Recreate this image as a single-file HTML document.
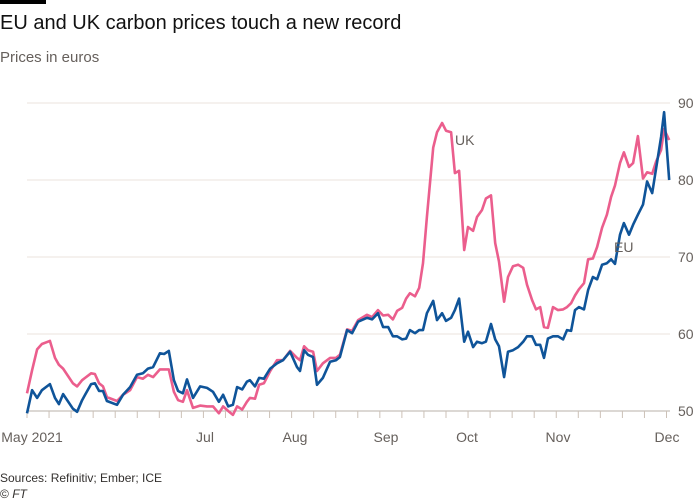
<!DOCTYPE html>
<html><head><meta charset="utf-8">
<style>
body{margin:0;background:#fff;}
svg{display:block;font-family:"Liberation Sans",sans-serif;}
</style></head>
<body>
<svg id="chart" width="700" height="500">
<rect x="0" y="0" width="46" height="4" fill="#000"/>
<text x="0" y="29" font-size="20" fill="#111">EU and UK carbon prices touch a new record</text>
<text x="0" y="62" font-size="15" fill="#66605c">Prices in euros</text>
<g id="grid"></g><g id="xaxis"></g><g id="series"></g>
<text x="455" y="145" font-size="14" fill="#66605c">UK</text>
<text x="614" y="252" font-size="14" fill="#66605c">EU</text>
<text x="0" y="482" font-size="12" fill="#33302e">Sources: Refinitiv; Ember; ICE</text>
<text x="0" y="498" font-size="12" fill="#33302e">© <tspan font-style="italic">FT</tspan></text>
</svg>
<script>
const days=[0,1.7,3.4,5.0,7.7,9.4,10.7,12.1,15.4,16.8,18.5,19.5,21.5,22.8,24.2,25.5,26.8,30.2,32.2,34.6,36.9,38.9,40.6,42.3,44.6,46.0,47.6,49.3,50.7,52.3,53.7,55.7,58.1,60.4,62.4,64.4,65.8,67.5,69.1,70.5,72.2,73.8,74.8,76.5,77.9,79.5,81.6,83.9,85.9,88.3,90.6,91.6,93.0,94.3,96.0,97.3,99.3,101.7,103.7,105.0,107.4,109.1,111.1,114.1,115.8,117.8,119.5,121.2,122.8,124.2,125.9,127.2,128.5,130.2,131.6,132.9,134.2,136.3,137.6,139.3,140.6,142.3,143.6,145.0,146.7,148.0,149.7,151.0,152.7,154.0,155.7,157.1,158.4,160.1,161.4,163.1,164.8,166.5,167.8,169.5,170.8,172.2,173.5,174.8,176.5,178.2,179.9,181.2,182.6,183.9,185.2,186.9,188.3,189.9,191.3,193.0,194.6,196.0,197.3,199.0,200.3,202.0,203.4,205.0,206.7,208.1,209.8,211.1,212.8,213.8,215.5];
const euValues=[49.7,52.7,51.7,52.7,53.5,51.7,50.9,52.2,50.3,49.9,51.4,52.1,53.5,53.6,52.6,52.6,51.3,50.8,52.1,53.1,54.7,54.9,55.5,55.7,57.5,57.4,57.8,54.0,52.6,52.3,54.1,51.7,53.2,53.0,52.5,51.2,52.1,50.6,50.8,53.1,52.8,53.8,54.0,53.2,54.3,54.2,55.5,56.2,56.6,57.7,55.7,55.2,57.9,57.3,57.0,53.4,54.3,56.4,56.6,57.0,60.5,60.1,61.6,62.1,61.9,62.7,60.9,60.9,59.7,59.7,59.3,59.4,60.5,60.1,60.5,60.5,62.7,64.3,61.8,62.7,61.7,62.1,63.1,64.6,59.0,60.3,58.3,59.0,58.8,59.0,61.3,59.3,58.4,54.4,57.7,57.9,58.3,59.0,59.7,59.7,58.6,58.6,56.9,59.4,59.7,59.7,59.3,60.5,60.4,63.1,63.5,63.2,65.7,67.4,67.1,69.0,69.2,69.7,69.1,72.9,74.4,72.9,74.2,75.5,76.8,79.8,78.3,81.5,85.6,88.8,80.0];
const ukValues=[52.3,55.3,58.0,58.7,59.1,56.9,56.0,55.5,53.6,53.2,54.0,54.3,54.9,54.8,53.6,53.2,51.8,51.3,52.1,52.7,54.4,54.2,54.7,54.4,55.4,55.4,55.4,52.5,51.4,51.2,52.7,50.4,50.7,50.6,50.6,49.7,50.6,50.0,49.5,50.6,50.2,51.2,51.7,51.6,53.4,53.6,55.2,56.6,56.6,57.8,56.9,56.6,58.4,57.9,57.7,55.2,56.2,56.9,56.9,57.3,60.6,60.4,61.8,62.5,62.2,63.1,62.4,62.5,61.9,63.0,63.4,64.6,65.3,64.9,66.0,69.2,75.2,84.2,86.2,87.4,86.4,86.2,80.9,81.2,70.9,73.9,73.4,75.2,76.1,77.6,78.0,71.8,69.4,64.2,67.4,68.8,69.0,68.6,66.4,64.4,63.2,63.5,60.9,60.8,63.5,63.1,63.2,63.5,64.0,65.0,65.8,66.6,69.7,69.8,71.3,73.8,75.5,77.8,79.3,82.2,83.6,81.7,82.2,85.7,80.2,81.0,80.8,82.4,83.9,86.6,85.2];
const yTicks=[50,60,70,80,90];
const monthLabels=["May 2021","Jul","Aug","Sep","Oct","Nov","Dec"];
const monthPos=[32,205,295,386,467,558,667];

const NS="http://www.w3.org/2000/svg";
const xs=d=>27+d*2.98;
const ys=v=>411-(v-50)*7.7;
function mk(tag,attrs,parent){const e=document.createElementNS(NS,tag);for(const k in attrs)e.setAttribute(k,attrs[k]);parent.appendChild(e);return e;}
const grid=document.getElementById('grid'),xa=document.getElementById('xaxis'),ser=document.getElementById('series');
yTicks.forEach(v=>{
  const l=mk('line',{x1:27,x2:670,y1:ys(v),y2:ys(v),stroke:v===50?'#b8b0aa':'#ebe3dc','stroke-width':1},grid);
  
  
  const t=mk('text',{x:678,y:ys(v)+5,'font-size':14,fill:'#66605c'},grid);
  t.textContent=v;
  
  
});
for(let d=0;d<=215;d+=7.4){
  const tk=mk('line',{x1:xs(d),x2:xs(d),y1:411,y2:418,stroke:'#ccc1b7','stroke-width':1},xa);
  
  
}
monthLabels.forEach((m,i)=>{
  const t=mk('text',{x:monthPos[i],y:442,'font-size':14,fill:'#66605c','text-anchor':'middle'},xa);
  t.textContent=m;
  
  
});
function line(vals,color,name){
  const d=vals.map((v,i)=>(i?'L':'M')+xs(days[i]).toFixed(1)+','+ys(v).toFixed(1)).join('');
  const p=mk('path',{d:d,fill:'none',stroke:color,'stroke-width':2.6,'stroke-linejoin':'round'},ser);
  
  
}
line(ukValues,'#eb5e8d','uk-price-line');
line(euValues,'#0f5499','eu-price-line');
</script>
</body></html>
